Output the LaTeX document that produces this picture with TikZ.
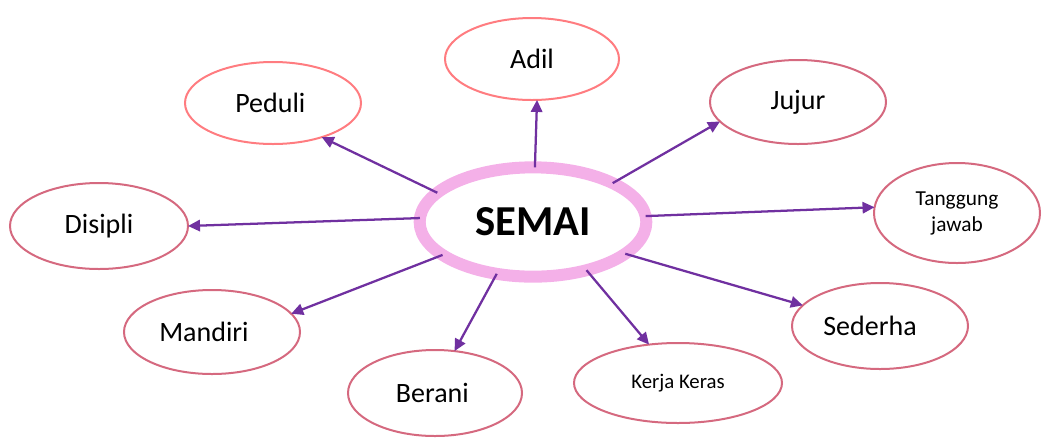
\documentclass[tikz,border=0pt]{standalone}
\usepackage{fontspec}
\setmainfont{Carlito}
\usetikzlibrary{shapes.geometric,arrows.meta}
\definecolor{coral}{HTML}{FF7C80}
\definecolor{rose}{HTML}{D5697F}
\definecolor{pinkc}{HTML}{F4B0E8}
\definecolor{arrowc}{HTML}{7030A0}
\tikzset{
  bub/.style={ellipse,draw=rose,line width=1.5pt,inner sep=0pt,outer sep=0pt,font=\fontsize{21}{25}\selectfont,align=center},
  bubc/.style={bub,draw=coral},
  conn/.style={draw=arrowc,line width=1.7pt,-{Triangle[length=9pt,width=8.5pt]}}
}
\begin{document}
\begin{tikzpicture}[x=0.75pt,y=-0.75pt]
\useasboundingbox (0,0) rectangle (1042,437);
\node[ellipse,draw=pinkc,line width=9pt,inner sep=0pt,outer sep=0pt,minimum width=170pt,minimum height=82pt,font=\bfseries\fontsize{32}{38}\selectfont] (semai) at (533,222) {SEMAI};
\node[bubc,minimum width=130.5pt,minimum height=61.5pt] (adil) at (532,59) {Adil};
\node[bubc,minimum width=132pt,minimum height=61.5pt] (peduli) at (273,103) {\hspace*{-4pt}Peduli};
\node[bub,minimum width=132pt,minimum height=63pt] (jujur) at (798,102) {Jujur};
\node[bub,minimum width=133.5pt,minimum height=64.5pt] (disipli) at (99,226) {Disipli};
\node[bub,minimum width=124.5pt,minimum height=75pt,font=\fontsize{16}{19.5}\selectfont] (tj) at (957,213) {Tanggung\\jawab};
\node[bub,minimum width=132pt,minimum height=63pt] (mandiri) at (212,332) {\hspace*{-12pt}Mandiri};
\node[bub,minimum width=132pt,minimum height=64.5pt] (sederha) at (880,326) {\hspace*{-15pt}Sederha};
\node[bub,minimum width=130.5pt,minimum height=64.5pt] (berani) at (435,393) {\hspace*{-4pt}Berani};
\node[bub,minimum width=156pt,minimum height=60pt,font=\fontsize{15.6}{19}\selectfont] (kerja) at (678,383) {Kerja Keras};
\draw[conn] (semai.88) -- (adil.-83.5);
\draw[conn] (semai.163.5) -- (peduli.-35.4);
\draw[conn] (semai.26.3) -- (jujur.194.4);
\draw[conn] (semai.178) -- (disipli.0);
\draw[conn] (semai.3.4) -- (tj.176.6);
\draw[conn] (semai.200) -- (mandiri.13);
\draw[conn] (semai.-19.3) -- (sederha.165);
\draw[conn] (semai.235.4) -- (berani.65);
\draw[conn] (semai.-42.8) -- (kerja.127);
\end{tikzpicture}
\end{document}
